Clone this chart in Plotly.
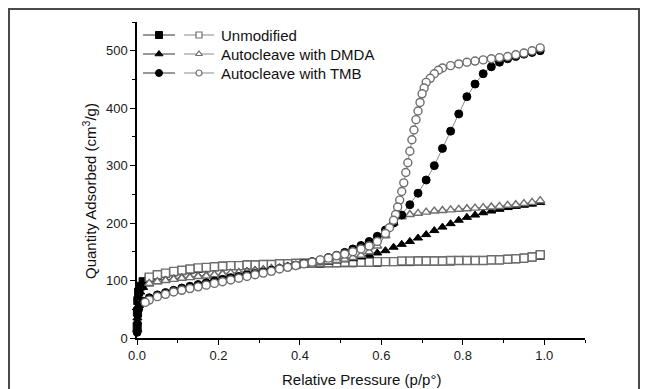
import plotly.graph_objects as go

# ---------------- data ----------------
P_ADS = [0.0005, 0.001, 0.002, 0.004, 0.008, 0.015, 0.03, 0.05, 0.07, 0.09,
         0.11, 0.13, 0.15, 0.17, 0.19, 0.21, 0.23, 0.25, 0.27, 0.29,
         0.31, 0.33, 0.35, 0.37, 0.39, 0.41, 0.43, 0.45, 0.47, 0.49,
         0.51, 0.53, 0.55, 0.57, 0.59, 0.61, 0.63, 0.65, 0.67, 0.69,
         0.71, 0.73, 0.75, 0.77, 0.79, 0.81, 0.83, 0.85, 0.87, 0.89,
         0.91, 0.93, 0.95, 0.97, 0.99]

P_DES = [0.99, 0.97, 0.95, 0.93, 0.91, 0.89, 0.87, 0.85, 0.83, 0.81,
         0.79, 0.77, 0.75, 0.73, 0.71, 0.69, 0.67, 0.65, 0.63, 0.61,
         0.59, 0.57, 0.55, 0.53, 0.51, 0.49, 0.47, 0.45, 0.43, 0.41,
         0.39, 0.37, 0.35, 0.33, 0.31, 0.29, 0.27, 0.25, 0.23, 0.21,
         0.19, 0.17, 0.15, 0.13, 0.11, 0.09, 0.07, 0.05, 0.03]

UNMOD_ADS = [20, 45, 65, 80, 90, 98, 104, 109, 112, 115,
             117, 119, 121, 122, 124, 125, 126, 126, 127, 127,
             128, 128, 129, 129, 129, 130, 130, 130, 131, 131,
             131, 131, 132, 132, 132, 133, 133, 133, 133, 134,
             134, 134, 134, 134, 135, 135, 135, 135, 136, 136,
             137, 138, 139, 141, 144]

UNMOD_DES = [145, 141, 139, 138, 137, 136, 136, 135, 135, 135,
             135, 135, 134, 134, 134, 134, 134, 134, 133, 133,
             133, 132, 132, 132, 132, 131, 131, 131, 130, 130,
             130, 129, 129, 128, 128, 127, 127, 126, 126, 125,
             124, 123, 122, 120, 118, 116, 113, 110, 106]

DMDA_ADS = [15, 35, 55, 70, 80, 88, 94, 98, 101, 103,
            105, 106, 108, 109, 110, 112, 113, 114, 116, 118,
            119, 121, 122, 124, 125, 127, 129, 131, 132, 134,
            136, 138, 141, 144, 148, 152, 158, 163, 168, 174,
            180, 187, 193, 199, 205, 210, 214, 218, 221, 224,
            227, 229, 231, 233, 236]

DMDA_DES = [239, 236, 234, 232, 231, 229, 228, 227, 226, 225,
            224, 223, 222, 221, 219, 217, 215, 211, 200, 178,
            160, 150, 144, 140, 137, 135, 133, 131, 130, 128,
            126, 124, 122, 121, 119, 117, 115, 114, 113, 111,
            110, 108, 107, 105, 104, 102, 100, 98, 95]

TMB_ADS = [10, 25, 40, 50, 58, 64, 70, 75, 79, 83,
           87, 90, 93, 96, 99, 102, 105, 107, 110, 112,
           115, 118, 121, 124, 127, 130, 133, 136, 140, 144,
           149, 155, 161, 168, 177, 188, 200, 214, 232, 252,
           275, 300, 330, 360, 390, 420, 442, 460, 472, 480,
           486, 490, 494, 497, 500]

TMB_P_DES = [0.99, 0.97, 0.95, 0.93, 0.91, 0.89, 0.87, 0.85, 0.83, 0.81,
             0.79, 0.77, 0.75, 0.74, 0.73, 0.72, 0.71, 0.705, 0.70, 0.695,
             0.69, 0.685, 0.68, 0.675, 0.67, 0.665, 0.66, 0.655, 0.65, 0.645,
             0.64, 0.635, 0.63, 0.62, 0.61, 0.59, 0.57, 0.55, 0.53, 0.51,
             0.49, 0.47, 0.45, 0.43, 0.41, 0.39, 0.37, 0.35, 0.33, 0.31,
             0.29, 0.27, 0.25, 0.23, 0.21, 0.19, 0.17, 0.15, 0.13, 0.11,
             0.09, 0.07, 0.05, 0.03, 0.02]

TMB_DES = [505, 500, 496, 493, 490, 488, 486, 484, 482, 480,
           477, 474, 470, 466, 460, 452, 445, 435, 425, 410,
           395, 380, 362, 345, 325, 305, 288, 270, 255, 240,
           228, 215, 205, 192, 182, 168, 160, 155, 150, 146,
           143, 139, 136, 132, 129, 126, 123, 120, 116, 113,
           110, 107, 104, 101, 98, 95, 92, 89, 86, 83,
           80, 76, 72, 66, 62]

SERIES_NAMES = ["Unmodified", "Autocleave with DMDA", "Autocleave with TMB"]
SYMBOLS = ["square", "triangle-up", "circle"]

X_TICKS = [0.0, 0.2, 0.4, 0.6, 0.8, 1.0]
X_TICK_TEXT = ["0.0", "0.2", "0.4", "0.6", "0.8", "1.0"]
Y_TICKS = [0, 100, 200, 300, 400, 500]

# ---------------- styling ----------------
W, H = 646, 389
ML, MR, MT, MB = 137, 61, 22, 51
LINE_GREY = "#8a8a8a"
OPEN_EDGE = "#6e6e6e"
FONT = "Liberation Sans, Arial, sans-serif"
TXT = "#111111"
MSIZE = 8

fig = go.Figure()

pairs = [
    (P_ADS, UNMOD_ADS, P_DES, UNMOD_DES),
    (P_ADS, DMDA_ADS, P_DES, DMDA_DES),
    (P_ADS, TMB_ADS, TMB_P_DES, TMB_DES),
]

for (xa, ya, xd, yd), name, sym in zip(pairs, SERIES_NAMES, SYMBOLS):
    fig.add_trace(go.Scatter(
        x=xa, y=ya, mode="lines+markers", name=name + " (adsorption)",
        line=dict(color=LINE_GREY, width=1),
        marker=dict(symbol=sym, size=MSIZE, color="black",
                    line=dict(color="black", width=1)),
        showlegend=False, cliponaxis=False))
    fig.add_trace(go.Scatter(
        x=xd, y=yd, mode="lines+markers", name=name + " (desorption)",
        line=dict(color=LINE_GREY, width=1),
        marker=dict(symbol=sym, size=MSIZE, color="white",
                    line=dict(color=OPEN_EDGE, width=1.4)),
        showlegend=False, cliponaxis=False))

# ---------------- custom legend (pixel-space overlay axes) ----------------
ROW_Y = [35, 54, 73]
for i, (name, sym) in enumerate(zip(SERIES_NAMES, SYMBOLS)):
    yy = ROW_Y[i]
    fig.add_trace(go.Scatter(
        x=[143, 175], y=[yy, yy], xaxis="x2", yaxis="y2", mode="lines",
        line=dict(color="#333333", width=1), showlegend=False,
        hoverinfo="skip", cliponaxis=False))
    fig.add_trace(go.Scatter(
        x=[159], y=[yy], xaxis="x2", yaxis="y2", mode="markers",
        marker=dict(symbol=sym, size=MSIZE - 1, color="black",
                    line=dict(color="black", width=1)),
        showlegend=False, hoverinfo="skip", cliponaxis=False))
    fig.add_trace(go.Scatter(
        x=[184, 214], y=[yy, yy], xaxis="x2", yaxis="y2", mode="lines",
        line=dict(color=LINE_GREY, width=1), showlegend=False,
        hoverinfo="skip", cliponaxis=False))
    fig.add_trace(go.Scatter(
        x=[199], y=[yy], xaxis="x2", yaxis="y2", mode="markers",
        marker=dict(symbol=sym, size=MSIZE - 2, color="white",
                    line=dict(color=OPEN_EDGE, width=1.2)),
        showlegend=False, hoverinfo="skip", cliponaxis=False))
    fig.add_annotation(x=219, y=yy, xref="x2", yref="y2", text=name,
                       showarrow=False, xanchor="left", yanchor="middle",
                       font=dict(family=FONT, size=15, color=TXT))

axis_common = dict(
    showgrid=False, zeroline=False, showline=True, linecolor="black",
    linewidth=1.5, ticks="outside", ticklen=5, tickwidth=1.2,
    tickcolor="black", tickfont=dict(family=FONT, size=13, color="#1a1a1a"),
    mirror=False,
)

fig.update_layout(
    width=W, height=H,
    margin=dict(l=ML, r=MR, t=MT, b=MB, pad=0),
    paper_bgcolor="white", plot_bgcolor="white",
    showlegend=False,
    xaxis=dict(range=[0, 1.1], tickvals=X_TICKS, ticktext=X_TICK_TEXT,
               minor=dict(dtick=0.1, tick0=0, ticklen=3, ticks="outside",
                          tickcolor="black", tickwidth=1.2),
               **axis_common),
    yaxis=dict(range=[0, 550], tickvals=Y_TICKS,
               minor=dict(dtick=50, tick0=0, ticklen=3, ticks="outside",
                          tickcolor="black", tickwidth=1.2),
               **axis_common),
    xaxis2=dict(range=[ML, W - MR], overlaying="x", anchor="y2",
                visible=False, fixedrange=True),
    yaxis2=dict(range=[H - MB, MT], overlaying="y", anchor="x2",
                visible=False, fixedrange=True),
)

# axis titles as annotations (pixel-accurate placement)
PW = W - ML - MR
PH = H - MT - MB
def px_to_paper_x(px):
    return (px - ML) / PW
def px_to_paper_y(py):
    return (H - MB - py) / PH

fig.add_annotation(x=px_to_paper_x(361), y=px_to_paper_y(379), xref="paper",
                   yref="paper", text="Relative Pressure (p/p°)",
                   showarrow=False, xanchor="center", yanchor="middle",
                   font=dict(family=FONT, size=15, color=TXT))
fig.add_annotation(x=px_to_paper_x(89), y=px_to_paper_y(191), xref="paper",
                   yref="paper", text="Quantity Adsorbed (cm<sup>3</sup>/g)",
                   textangle=-90, showarrow=False, xanchor="center",
                   yanchor="middle",
                   font=dict(family=FONT, size=15, color=TXT))

# outer frame of the figure image
fig.add_shape(type="rect", xref="paper", yref="paper",
              x0=px_to_paper_x(9), x1=px_to_paper_x(639),
              y0=px_to_paper_y(420), y1=px_to_paper_y(9),
              line=dict(color="#4a4a4a", width=2), fillcolor="rgba(0,0,0,0)",
              layer="below")

fig.write_html("out.html")
